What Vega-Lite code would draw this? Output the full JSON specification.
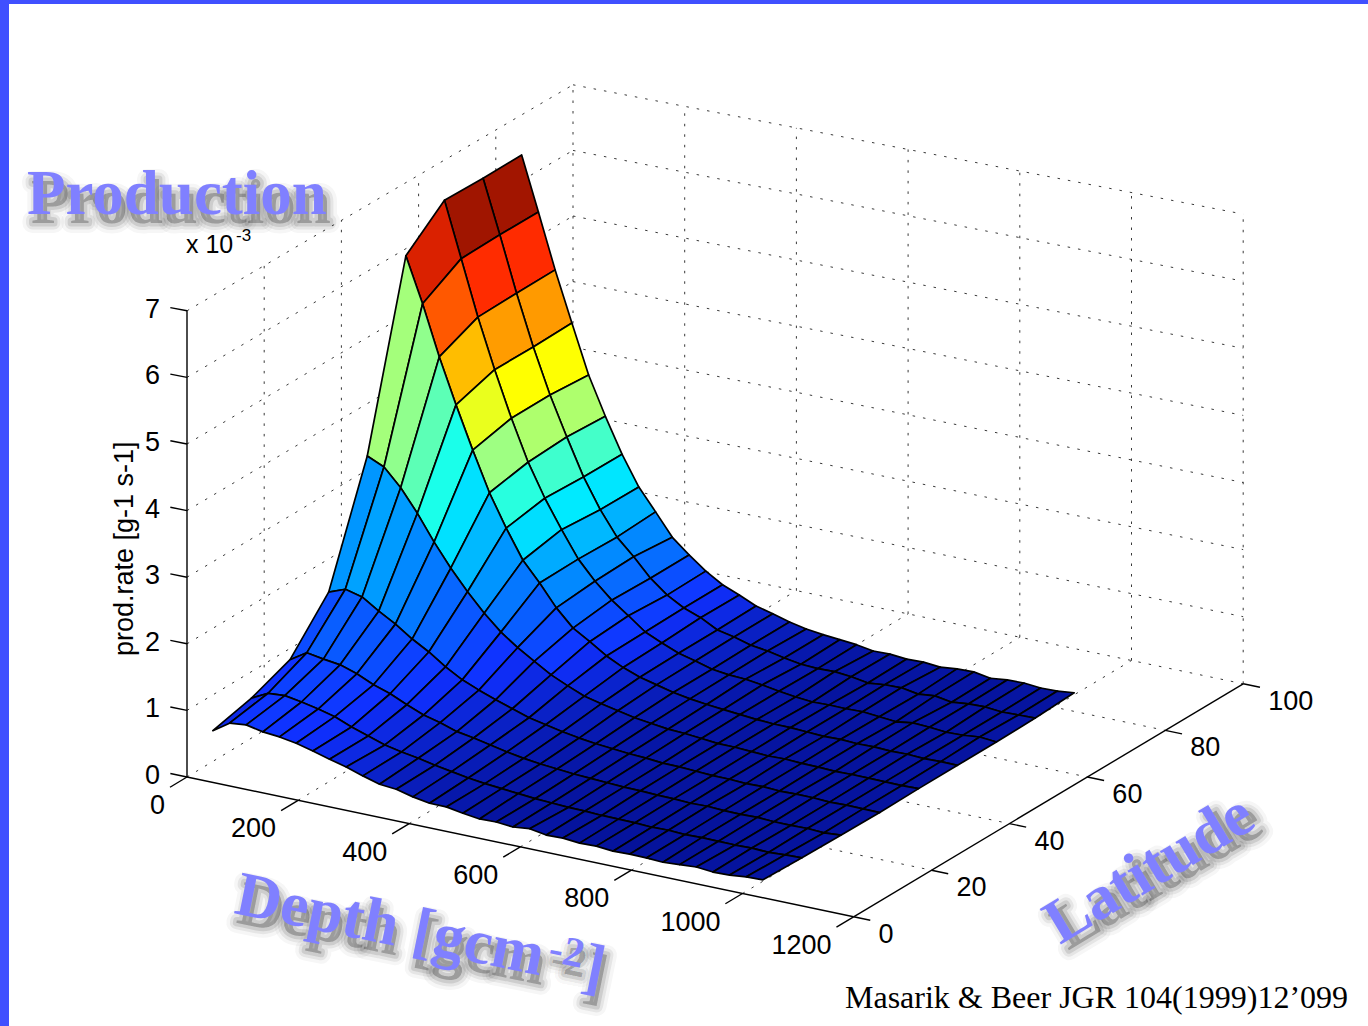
{"$schema":"https://vega.github.io/schema/vega-lite/v6.json","width":1368,"height":1026,"padding":0,"autosize":{"type":"fit","contains":"padding"},"background":"white","config":{"view":{"stroke":null}},
"datasets":{
"frame":[{"a":0,"b":1368,"c":0,"e":4},{"a":0,"b":9,"c":0,"e":1026}],
"grid":[
{"d1":0,"l1":0,"z1":0,"d2":0,"l2":100,"z2":0},{"d1":0,"l1":0,"z1":1,"d2":0,"l2":100,"z2":1},{"d1":0,"l1":0,"z1":2,"d2":0,"l2":100,"z2":2},{"d1":0,"l1":0,"z1":3,"d2":0,"l2":100,"z2":3},{"d1":0,"l1":0,"z1":4,"d2":0,"l2":100,"z2":4},{"d1":0,"l1":0,"z1":5,"d2":0,"l2":100,"z2":5},{"d1":0,"l1":0,"z1":6,"d2":0,"l2":100,"z2":6},{"d1":0,"l1":0,"z1":7,"d2":0,"l2":100,"z2":7},
{"d1":0,"l1":100,"z1":0,"d2":1200,"l2":100,"z2":0},{"d1":0,"l1":100,"z1":1,"d2":1200,"l2":100,"z2":1},{"d1":0,"l1":100,"z1":2,"d2":1200,"l2":100,"z2":2},{"d1":0,"l1":100,"z1":3,"d2":1200,"l2":100,"z2":3},{"d1":0,"l1":100,"z1":4,"d2":1200,"l2":100,"z2":4},{"d1":0,"l1":100,"z1":5,"d2":1200,"l2":100,"z2":5},{"d1":0,"l1":100,"z1":6,"d2":1200,"l2":100,"z2":6},{"d1":0,"l1":100,"z1":7,"d2":1200,"l2":100,"z2":7},
{"d1":0,"l1":20,"z1":0,"d2":0,"l2":20,"z2":7},{"d1":0,"l1":40,"z1":0,"d2":0,"l2":40,"z2":7},{"d1":0,"l1":60,"z1":0,"d2":0,"l2":60,"z2":7},{"d1":0,"l1":80,"z1":0,"d2":0,"l2":80,"z2":7},{"d1":0,"l1":100,"z1":0,"d2":0,"l2":100,"z2":7},
{"d1":200,"l1":100,"z1":0,"d2":200,"l2":100,"z2":7},{"d1":400,"l1":100,"z1":0,"d2":400,"l2":100,"z2":7},{"d1":600,"l1":100,"z1":0,"d2":600,"l2":100,"z2":7},{"d1":800,"l1":100,"z1":0,"d2":800,"l2":100,"z2":7},{"d1":1000,"l1":100,"z1":0,"d2":1000,"l2":100,"z2":7},{"d1":1200,"l1":100,"z1":0,"d2":1200,"l2":100,"z2":7},
{"d1":0,"l1":20,"z1":0,"d2":1200,"l2":20,"z2":0},{"d1":0,"l1":40,"z1":0,"d2":1200,"l2":40,"z2":0},{"d1":0,"l1":60,"z1":0,"d2":1200,"l2":60,"z2":0},{"d1":0,"l1":80,"z1":0,"d2":1200,"l2":80,"z2":0},
{"d1":200,"l1":0,"z1":0,"d2":200,"l2":100,"z2":0},{"d1":400,"l1":0,"z1":0,"d2":400,"l2":100,"z2":0},{"d1":600,"l1":0,"z1":0,"d2":600,"l2":100,"z2":0},{"d1":800,"l1":0,"z1":0,"d2":800,"l2":100,"z2":0},{"d1":1000,"l1":0,"z1":0,"d2":1000,"l2":100,"z2":0}],
"axes":[
{"d1":0,"l1":0,"z1":0,"d2":0,"l2":0,"z2":7},{"d1":0,"l1":0,"z1":0,"d2":1200,"l2":0,"z2":0},{"d1":1200,"l1":0,"z1":0,"d2":1200,"l2":100,"z2":0},
{"d1":0,"l1":0,"z1":0,"d2":-30,"l2":0,"z2":0},{"d1":0,"l1":0,"z1":1,"d2":-30,"l2":0,"z2":1},{"d1":0,"l1":0,"z1":2,"d2":-30,"l2":0,"z2":2},{"d1":0,"l1":0,"z1":3,"d2":-30,"l2":0,"z2":3},{"d1":0,"l1":0,"z1":4,"d2":-30,"l2":0,"z2":4},{"d1":0,"l1":0,"z1":5,"d2":-30,"l2":0,"z2":5},{"d1":0,"l1":0,"z1":6,"d2":-30,"l2":0,"z2":6},{"d1":0,"l1":0,"z1":7,"d2":-30,"l2":0,"z2":7},
{"d1":0,"l1":0,"z1":0,"d2":0,"l2":-4.4,"z2":0},{"d1":200,"l1":0,"z1":0,"d2":200,"l2":-4.4,"z2":0},{"d1":400,"l1":0,"z1":0,"d2":400,"l2":-4.4,"z2":0},{"d1":600,"l1":0,"z1":0,"d2":600,"l2":-4.4,"z2":0},{"d1":800,"l1":0,"z1":0,"d2":800,"l2":-4.4,"z2":0},{"d1":1000,"l1":0,"z1":0,"d2":1000,"l2":-4.4,"z2":0},{"d1":1200,"l1":0,"z1":0,"d2":1200,"l2":-4.4,"z2":0},
{"d1":1200,"l1":0,"z1":0,"d2":1230,"l2":0,"z2":0},{"d1":1200,"l1":20,"z1":0,"d2":1230,"l2":20,"z2":0},{"d1":1200,"l1":40,"z1":0,"d2":1230,"l2":40,"z2":0},{"d1":1200,"l1":60,"z1":0,"d2":1230,"l2":60,"z2":0},{"d1":1200,"l1":80,"z1":0,"d2":1230,"l2":80,"z2":0},{"d1":1200,"l1":100,"z1":0,"d2":1230,"l2":100,"z2":0}],
"titles":[
{"text":"Production","px":27,"py":214,"angle":0,"size":63},
{"text":"Depth [gcm","px":233,"py":913,"angle":11.5,"size":63},
{"text":"-2","px":547,"py":961,"angle":11.5,"size":42},
{"text":"]","px":580,"py":985,"angle":11.5,"size":63},
{"text":"Latitude","px":1060,"py":945,"angle":-31,"size":63}],
"notes":[
{"text":"x 10","px":186,"py":253,"angle":0,"size":25},
{"text":"-3","px":236,"py":241,"angle":0,"size":17},
{"text":"prod.rate [g-1 s-1]","px":133,"py":656,"angle":-90,"size":27}],
"surface":[
{"depth":0,"lat":86.7,"prod":6.38},{"depth":0,"lat":76.7,"prod":6.38},{"depth":0,"lat":66.7,"prod":6.4},{"depth":0,"lat":56.7,"prod":5.91},{"depth":0,"lat":46.7,"prod":3.23},{"depth":0,"lat":36.7,"prod":1.52},{"depth":0,"lat":26.7,"prod":0.85},{"depth":0,"lat":16.7,"prod":0.62},{"depth":0,"lat":6.7,"prod":0.48},
{"depth":30,"lat":86.7,"prod":5.57},{"depth":30,"lat":76.7,"prod":5.58},{"depth":30,"lat":66.7,"prod":5.57},{"depth":30,"lat":56.7,"prod":5.24},{"depth":30,"lat":46.7,"prod":3.12},{"depth":30,"lat":36.7,"prod":1.62},{"depth":30,"lat":26.7,"prod":1.01},{"depth":30,"lat":16.7,"prod":0.75},{"depth":30,"lat":6.7,"prod":0.65},
{"depth":60,"lat":86.7,"prod":4.75},{"depth":60,"lat":76.7,"prod":4.75},{"depth":60,"lat":66.7,"prod":4.74},{"depth":60,"lat":56.7,"prod":4.49},{"depth":60,"lat":46.7,"prod":2.86},{"depth":60,"lat":36.7,"prod":1.56},{"depth":60,"lat":26.7,"prod":0.97},{"depth":60,"lat":16.7,"prod":0.77},{"depth":60,"lat":6.7,"prod":0.68},
{"depth":90,"lat":86.7,"prod":4.0},{"depth":90,"lat":76.7,"prod":3.99},{"depth":90,"lat":66.7,"prod":4.0},{"depth":90,"lat":56.7,"prod":3.82},{"depth":90,"lat":46.7,"prod":2.53},{"depth":90,"lat":36.7,"prod":1.4},{"depth":90,"lat":26.7,"prod":0.94},{"depth":90,"lat":16.7,"prod":0.73},{"depth":90,"lat":6.7,"prod":0.63},
{"depth":120,"lat":86.7,"prod":3.27},{"depth":120,"lat":76.7,"prod":3.32},{"depth":120,"lat":66.7,"prod":3.32},{"depth":120,"lat":56.7,"prod":3.19},{"depth":120,"lat":46.7,"prod":2.15},{"depth":120,"lat":36.7,"prod":1.26},{"depth":120,"lat":26.7,"prod":0.86},{"depth":120,"lat":16.7,"prod":0.68},{"depth":120,"lat":6.7,"prod":0.61},
{"depth":150,"lat":86.7,"prod":2.7},{"depth":150,"lat":76.7,"prod":2.74},{"depth":150,"lat":66.7,"prod":2.71},{"depth":150,"lat":56.7,"prod":2.6},{"depth":150,"lat":46.7,"prod":1.81},{"depth":150,"lat":36.7,"prod":1.09},{"depth":150,"lat":26.7,"prod":0.75},{"depth":150,"lat":16.7,"prod":0.62},{"depth":150,"lat":6.7,"prod":0.57},
{"depth":180,"lat":86.7,"prod":2.18},{"depth":180,"lat":76.7,"prod":2.19},{"depth":180,"lat":66.7,"prod":2.22},{"depth":180,"lat":56.7,"prod":2.12},{"depth":180,"lat":46.7,"prod":1.51},{"depth":180,"lat":36.7,"prod":0.95},{"depth":180,"lat":26.7,"prod":0.67},{"depth":180,"lat":16.7,"prod":0.52},{"depth":180,"lat":6.7,"prod":0.51},
{"depth":210,"lat":86.7,"prod":1.74},{"depth":210,"lat":76.7,"prod":1.75},{"depth":210,"lat":66.7,"prod":1.8},{"depth":210,"lat":56.7,"prod":1.69},{"depth":210,"lat":46.7,"prod":1.24},{"depth":210,"lat":36.7,"prod":0.78},{"depth":210,"lat":26.7,"prod":0.56},{"depth":210,"lat":16.7,"prod":0.44},{"depth":210,"lat":6.7,"prod":0.44},
{"depth":240,"lat":86.7,"prod":1.42},{"depth":240,"lat":76.7,"prod":1.39},{"depth":240,"lat":66.7,"prod":1.41},{"depth":240,"lat":56.7,"prod":1.4},{"depth":240,"lat":46.7,"prod":1.01},{"depth":240,"lat":36.7,"prod":0.64},{"depth":240,"lat":26.7,"prod":0.46},{"depth":240,"lat":16.7,"prod":0.36},{"depth":240,"lat":6.7,"prod":0.38},
{"depth":270,"lat":86.7,"prod":1.09},{"depth":270,"lat":76.7,"prod":1.15},{"depth":270,"lat":66.7,"prod":1.13},{"depth":270,"lat":56.7,"prod":1.08},{"depth":270,"lat":46.7,"prod":0.83},{"depth":270,"lat":36.7,"prod":0.54},{"depth":270,"lat":26.7,"prod":0.4},{"depth":270,"lat":16.7,"prod":0.31},{"depth":270,"lat":6.7,"prod":0.3},
{"depth":300,"lat":86.7,"prod":0.88},{"depth":300,"lat":76.7,"prod":0.88},{"depth":300,"lat":66.7,"prod":0.9},{"depth":300,"lat":56.7,"prod":0.83},{"depth":300,"lat":46.7,"prod":0.68},{"depth":300,"lat":36.7,"prod":0.45},{"depth":300,"lat":26.7,"prod":0.32},{"depth":300,"lat":16.7,"prod":0.27},{"depth":300,"lat":6.7,"prod":0.23},
{"depth":330,"lat":86.7,"prod":0.69},{"depth":330,"lat":76.7,"prod":0.68},{"depth":330,"lat":66.7,"prod":0.72},{"depth":330,"lat":56.7,"prod":0.68},{"depth":330,"lat":46.7,"prod":0.53},{"depth":330,"lat":36.7,"prod":0.37},{"depth":330,"lat":26.7,"prod":0.28},{"depth":330,"lat":16.7,"prod":0.22},{"depth":330,"lat":6.7,"prod":0.21},
{"depth":360,"lat":86.7,"prod":0.54},{"depth":360,"lat":76.7,"prod":0.54},{"depth":360,"lat":66.7,"prod":0.53},{"depth":360,"lat":56.7,"prod":0.52},{"depth":360,"lat":46.7,"prod":0.42},{"depth":360,"lat":36.7,"prod":0.29},{"depth":360,"lat":26.7,"prod":0.23},{"depth":360,"lat":16.7,"prod":0.18},{"depth":360,"lat":6.7,"prod":0.15},
{"depth":390,"lat":86.7,"prod":0.44},{"depth":390,"lat":76.7,"prod":0.45},{"depth":390,"lat":66.7,"prod":0.42},{"depth":390,"lat":56.7,"prod":0.4},{"depth":390,"lat":46.7,"prod":0.32},{"depth":390,"lat":36.7,"prod":0.24},{"depth":390,"lat":26.7,"prod":0.18},{"depth":390,"lat":16.7,"prod":0.14},{"depth":390,"lat":6.7,"prod":0.11},
{"depth":420,"lat":86.7,"prod":0.33},{"depth":420,"lat":76.7,"prod":0.32},{"depth":420,"lat":66.7,"prod":0.32},{"depth":420,"lat":56.7,"prod":0.31},{"depth":420,"lat":46.7,"prod":0.26},{"depth":420,"lat":36.7,"prod":0.19},{"depth":420,"lat":26.7,"prod":0.14},{"depth":420,"lat":16.7,"prod":0.11},{"depth":420,"lat":6.7,"prod":0.11},
{"depth":450,"lat":86.7,"prod":0.27},{"depth":450,"lat":76.7,"prod":0.27},{"depth":450,"lat":66.7,"prod":0.26},{"depth":450,"lat":56.7,"prod":0.25},{"depth":450,"lat":46.7,"prod":0.21},{"depth":450,"lat":36.7,"prod":0.15},{"depth":450,"lat":26.7,"prod":0.11},{"depth":450,"lat":16.7,"prod":0.09},{"depth":450,"lat":6.7,"prod":0.07},
{"depth":480,"lat":86.7,"prod":0.2},{"depth":480,"lat":76.7,"prod":0.2},{"depth":480,"lat":66.7,"prod":0.19},{"depth":480,"lat":56.7,"prod":0.19},{"depth":480,"lat":46.7,"prod":0.16},{"depth":480,"lat":36.7,"prod":0.12},{"depth":480,"lat":26.7,"prod":0.09},{"depth":480,"lat":16.7,"prod":0.07},{"depth":480,"lat":6.7,"prod":0.04},
{"depth":510,"lat":86.7,"prod":0.15},{"depth":510,"lat":76.7,"prod":0.17},{"depth":510,"lat":66.7,"prod":0.16},{"depth":510,"lat":56.7,"prod":0.15},{"depth":510,"lat":46.7,"prod":0.13},{"depth":510,"lat":36.7,"prod":0.1},{"depth":510,"lat":26.7,"prod":0.07},{"depth":510,"lat":16.7,"prod":0.05},{"depth":510,"lat":6.7,"prod":0.05},
{"depth":540,"lat":86.7,"prod":0.12},{"depth":540,"lat":76.7,"prod":0.12},{"depth":540,"lat":66.7,"prod":0.15},{"depth":540,"lat":56.7,"prod":0.12},{"depth":540,"lat":46.7,"prod":0.1},{"depth":540,"lat":36.7,"prod":0.08},{"depth":540,"lat":26.7,"prod":0.06},{"depth":540,"lat":16.7,"prod":0.04},{"depth":540,"lat":6.7,"prod":0.03},
{"depth":570,"lat":86.7,"prod":0.1},{"depth":570,"lat":76.7,"prod":0.08},{"depth":570,"lat":66.7,"prod":0.12},{"depth":570,"lat":56.7,"prod":0.1},{"depth":570,"lat":46.7,"prod":0.09},{"depth":570,"lat":36.7,"prod":0.07},{"depth":570,"lat":26.7,"prod":0.05},{"depth":570,"lat":16.7,"prod":0.03},{"depth":570,"lat":6.7,"prod":0.06},
{"depth":600,"lat":86.7,"prod":0.08},{"depth":600,"lat":76.7,"prod":0.07},{"depth":600,"lat":66.7,"prod":0.08},{"depth":600,"lat":56.7,"prod":0.08},{"depth":600,"lat":46.7,"prod":0.07},{"depth":600,"lat":36.7,"prod":0.05},{"depth":600,"lat":26.7,"prod":0.04},{"depth":600,"lat":16.7,"prod":0.03},{"depth":600,"lat":6.7,"prod":0.02},
{"depth":630,"lat":86.7,"prod":0.04},{"depth":630,"lat":76.7,"prod":0.08},{"depth":630,"lat":66.7,"prod":0.05},{"depth":630,"lat":56.7,"prod":0.06},{"depth":630,"lat":46.7,"prod":0.05},{"depth":630,"lat":36.7,"prod":0.05},{"depth":630,"lat":26.7,"prod":0.04},{"depth":630,"lat":16.7,"prod":0.02},{"depth":630,"lat":6.7,"prod":0.03},
{"depth":660,"lat":86.7,"prod":0.05},{"depth":660,"lat":76.7,"prod":0.06},{"depth":660,"lat":66.7,"prod":0.03},{"depth":660,"lat":56.7,"prod":0.05},{"depth":660,"lat":46.7,"prod":0.05},{"depth":660,"lat":36.7,"prod":0.04},{"depth":660,"lat":26.7,"prod":0.03},{"depth":660,"lat":16.7,"prod":0.02},{"depth":660,"lat":6.7,"prod":0.01},
{"depth":690,"lat":86.7,"prod":0.03},{"depth":690,"lat":76.7,"prod":0.02},{"depth":690,"lat":66.7,"prod":0.04},{"depth":690,"lat":56.7,"prod":0.05},{"depth":690,"lat":46.7,"prod":0.04},{"depth":690,"lat":36.7,"prod":0.03},{"depth":690,"lat":26.7,"prod":0.03},{"depth":690,"lat":16.7,"prod":0.02},{"depth":690,"lat":6.7,"prod":0.02},
{"depth":720,"lat":86.7,"prod":0.04},{"depth":720,"lat":76.7,"prod":0.05},{"depth":720,"lat":66.7,"prod":0.04},{"depth":720,"lat":56.7,"prod":0.04},{"depth":720,"lat":46.7,"prod":0.03},{"depth":720,"lat":36.7,"prod":0.03},{"depth":720,"lat":26.7,"prod":0.02},{"depth":720,"lat":16.7,"prod":0.01},{"depth":720,"lat":6.7,"prod":0.0},
{"depth":750,"lat":86.7,"prod":0.02},{"depth":750,"lat":76.7,"prod":0.06},{"depth":750,"lat":66.7,"prod":0.05},{"depth":750,"lat":56.7,"prod":0.03},{"depth":750,"lat":46.7,"prod":0.04},{"depth":750,"lat":36.7,"prod":0.02},{"depth":750,"lat":26.7,"prod":0.03},{"depth":750,"lat":16.7,"prod":0.02},{"depth":750,"lat":6.7,"prod":0.01},
{"depth":780,"lat":86.7,"prod":0.05},{"depth":780,"lat":76.7,"prod":0.02},{"depth":780,"lat":66.7,"prod":0.03},{"depth":780,"lat":56.7,"prod":0.04},{"depth":780,"lat":46.7,"prod":0.03},{"depth":780,"lat":36.7,"prod":0.03},{"depth":780,"lat":26.7,"prod":0.02},{"depth":780,"lat":16.7,"prod":0.01},{"depth":780,"lat":6.7,"prod":0.01},
{"depth":810,"lat":86.7,"prod":0.06},{"depth":810,"lat":76.7,"prod":0.05},{"depth":810,"lat":66.7,"prod":0.01},{"depth":810,"lat":56.7,"prod":0.03},{"depth":810,"lat":46.7,"prod":0.03},{"depth":810,"lat":36.7,"prod":0.02},{"depth":810,"lat":26.7,"prod":0.02},{"depth":810,"lat":16.7,"prod":0.02},{"depth":810,"lat":6.7,"prod":0.0},
{"depth":840,"lat":86.7,"prod":0.02},{"depth":840,"lat":76.7,"prod":0.01},{"depth":840,"lat":66.7,"prod":0.05},{"depth":840,"lat":56.7,"prod":0.04},{"depth":840,"lat":46.7,"prod":0.02},{"depth":840,"lat":36.7,"prod":0.03},{"depth":840,"lat":26.7,"prod":0.03},{"depth":840,"lat":16.7,"prod":0.02},{"depth":840,"lat":6.7,"prod":0.02},
{"depth":870,"lat":86.7,"prod":0.05},{"depth":870,"lat":76.7,"prod":0.04},{"depth":870,"lat":66.7,"prod":0.04},{"depth":870,"lat":56.7,"prod":0.03},{"depth":870,"lat":46.7,"prod":0.03},{"depth":870,"lat":36.7,"prod":0.03},{"depth":870,"lat":26.7,"prod":0.02},{"depth":870,"lat":16.7,"prod":0.02},{"depth":870,"lat":6.7,"prod":0.04},
{"depth":900,"lat":86.7,"prod":0.06},{"depth":900,"lat":76.7,"prod":0.05},{"depth":900,"lat":66.7,"prod":0.02},{"depth":900,"lat":56.7,"prod":0.04},{"depth":900,"lat":46.7,"prod":0.03},{"depth":900,"lat":36.7,"prod":0.02},{"depth":900,"lat":26.7,"prod":0.02},{"depth":900,"lat":16.7,"prod":0.03},{"depth":900,"lat":6.7,"prod":0.02},
{"depth":930,"lat":86.7,"prod":0.04},{"depth":930,"lat":76.7,"prod":0.03},{"depth":930,"lat":66.7,"prod":0.03},{"depth":930,"lat":56.7,"prod":0.03},{"depth":930,"lat":46.7,"prod":0.03},{"depth":930,"lat":36.7,"prod":0.03},{"depth":930,"lat":26.7,"prod":0.03},{"depth":930,"lat":16.7,"prod":0.02},{"depth":930,"lat":6.7,"prod":0.03},
{"depth":960,"lat":86.7,"prod":0.05},{"depth":960,"lat":76.7,"prod":0.04},{"depth":960,"lat":66.7,"prod":0.06},{"depth":960,"lat":56.7,"prod":0.04},{"depth":960,"lat":46.7,"prod":0.03},{"depth":960,"lat":36.7,"prod":0.03},{"depth":960,"lat":26.7,"prod":0.02},{"depth":960,"lat":16.7,"prod":0.04},{"depth":960,"lat":6.7,"prod":0.06},
{"depth":990,"lat":86.7,"prod":0.08},{"depth":990,"lat":76.7,"prod":0.05},{"depth":990,"lat":66.7,"prod":0.04},{"depth":990,"lat":56.7,"prod":0.04},{"depth":990,"lat":46.7,"prod":0.04},{"depth":990,"lat":36.7,"prod":0.03},{"depth":990,"lat":26.7,"prod":0.04},{"depth":990,"lat":16.7,"prod":0.05},{"depth":990,"lat":6.7,"prod":0.07}
]},
"layer":[
{"data":{"name":"frame"},"mark":{"type":"rect","fill":"#4050ff"},"encoding":{"x":{"field":"a","type":"quantitative","scale":{"domain":[0,1368],"nice":false,"zero":false},"axis":null},"x2":{"field":"b"},"y":{"field":"c","type":"quantitative","scale":{"domain":[1026,0],"nice":false,"zero":false},"axis":null},"y2":{"field":"e"}}},
{"data":{"name":"grid"},
"transform":[
{"calculate":"187+0.5555*datum.d1+3.86*datum.l1+0.00003*datum.d1*datum.l1","as":"x1"},
{"calculate":"187+0.5555*datum.d2+3.86*datum.l2+0.00003*datum.d2*datum.l2","as":"x2"},
{"calculate":"777+0.1165*datum.d1-2.33*datum.l1-(66.6-0.01*datum.l1+0.00125*datum.d1)*datum.z1","as":"y1"},
{"calculate":"777+0.1165*datum.d2-2.33*datum.l2-(66.6-0.01*datum.l2+0.00125*datum.d2)*datum.z2","as":"y2"}],
"mark":{"type":"rule","stroke":"#222","strokeWidth":0.9,"strokeDash":[2.5,8]},
"encoding":{"x":{"field":"x1","type":"quantitative","scale":{"domain":[0,1368],"nice":false,"zero":false},"axis":null},"x2":{"field":"x2"},"y":{"field":"y1","type":"quantitative","scale":{"domain":[1026,0],"nice":false,"zero":false},"axis":null},"y2":{"field":"y2"}}},
{"data":{"name":"surface"},
"transform":[
{"calculate":"[0,1,2,3]","as":"c"},
{"flatten":["c"]},
{"calculate":"datum.depth/30-((datum.c==1||datum.c==2)?1:0)","as":"ci"},
{"calculate":"round((datum.lat-6.7)/10)-((datum.c==2||datum.c==3)?1:0)","as":"cj"},
{"filter":"datum.ci>=0&&datum.ci<33&&datum.cj>=0&&datum.cj<8"},
{"calculate":"datum.ci*100+datum.cj","as":"cell"},
{"calculate":"datum.c==0?datum.prod:null","as":"own"},
{"joinaggregate":[{"op":"max","field":"own","as":"level"}],"groupby":["cell"]},
{"calculate":"187+0.5555*datum.depth+3.86*datum.lat+0.00003*datum.depth*datum.lat","as":"sx"},
{"calculate":"778+0.1233*datum.depth-2.33*datum.lat-66*datum.prod","as":"sy"}],
"mark":{"type":"line","interpolate":"linear-closed","stroke":"black","strokeWidth":1.7,"strokeJoin":"round"},
"encoding":{"x":{"field":"sx","type":"quantitative","scale":{"domain":[0,1368],"nice":false,"zero":false},"axis":null},"y":{"field":"sy","type":"quantitative","scale":{"domain":[1026,0],"nice":false,"zero":false},"axis":null},"detail":{"field":"cell","type":"nominal"},"order":{"field":"c","type":"quantitative"},
"fill":{"field":"level","type":"quantitative","legend":null,"scale":{"type":"linear","interpolate":"rgb","domain":[0,0.3,0.6,1.5,2.4,3.2,4.0,5.6,6.4],"range":["#05129a","#0a22c8","#1030ff","#0094ff","#00ffff","#a0ff80","#ffff00","#ff2800","#a01500"]}}}},
{"data":{"name":"axes"},
"transform":[
{"calculate":"187+0.5555*datum.d1+3.86*datum.l1+0.00003*datum.d1*datum.l1","as":"x1"},
{"calculate":"187+0.5555*datum.d2+3.86*datum.l2+0.00003*datum.d2*datum.l2","as":"x2"},
{"calculate":"777+0.1165*datum.d1-2.33*datum.l1-(66.6-0.01*datum.l1+0.00125*datum.d1)*datum.z1","as":"y1"},
{"calculate":"777+0.1165*datum.d2-2.33*datum.l2-(66.6-0.01*datum.l2+0.00125*datum.d2)*datum.z2","as":"y2"}],
"mark":{"type":"rule","stroke":"black","strokeWidth":1.4},
"encoding":{"x":{"field":"x1","type":"quantitative","scale":{"domain":[0,1368],"nice":false,"zero":false},"axis":null},"x2":{"field":"x2"},"y":{"field":"y1","type":"quantitative","scale":{"domain":[1026,0],"nice":false,"zero":false},"axis":null},"y2":{"field":"y2"}}},
{"data":{"values":[{"v":0},{"v":1},{"v":2},{"v":3},{"v":4},{"v":5},{"v":6},{"v":7}]},
"transform":[{"calculate":"187","as":"tx"},{"calculate":"777-66.6*datum.v","as":"ty"}],
"mark":{"type":"text","font":"Liberation Sans","fontSize":27,"align":"right","baseline":"middle","dx":-27,"dy":-1,"fill":"black"},
"encoding":{"text":{"field":"v","type":"nominal"},"x":{"field":"tx","type":"quantitative","scale":{"domain":[0,1368],"nice":false,"zero":false},"axis":null},"y":{"field":"ty","type":"quantitative","scale":{"domain":[1026,0],"nice":false,"zero":false},"axis":null}}},
{"data":{"values":[{"v":0},{"v":200},{"v":400},{"v":600},{"v":800},{"v":1000},{"v":1200}]},
"transform":[{"calculate":"187+0.5555*datum.v","as":"tx"},{"calculate":"777+0.1165*datum.v","as":"ty"}],
"mark":{"type":"text","font":"Liberation Sans","fontSize":27,"align":"right","baseline":"middle","dx":-22,"dy":29,"fill":"black"},
"encoding":{"text":{"field":"v","type":"nominal"},"x":{"field":"tx","type":"quantitative","scale":{"domain":[0,1368],"nice":false,"zero":false},"axis":null},"y":{"field":"ty","type":"quantitative","scale":{"domain":[1026,0],"nice":false,"zero":false},"axis":null}}},
{"data":{"values":[{"v":0},{"v":20},{"v":40},{"v":60},{"v":80},{"v":100}]},
"transform":[{"calculate":"853.6+3.896*datum.v","as":"tx"},{"calculate":"916.8-2.33*datum.v","as":"ty"}],
"mark":{"type":"text","font":"Liberation Sans","fontSize":27,"align":"left","baseline":"middle","dx":25,"dy":18,"fill":"black"},
"encoding":{"text":{"field":"v","type":"nominal"},"x":{"field":"tx","type":"quantitative","scale":{"domain":[0,1368],"nice":false,"zero":false},"axis":null},"y":{"field":"ty","type":"quantitative","scale":{"domain":[1026,0],"nice":false,"zero":false},"axis":null}}},
{"data":{"name":"notes"},"mark":{"type":"text","font":"Liberation Sans","align":"left","baseline":"alphabetic","fill":"black"},
"encoding":{"text":{"field":"text"},"x":{"field":"px","type":"quantitative","scale":{"domain":[0,1368],"nice":false,"zero":false},"axis":null},"y":{"field":"py","type":"quantitative","scale":{"domain":[1026,0],"nice":false,"zero":false},"axis":null},"angle":{"field":"angle","type":"quantitative","scale":null},"size":{"field":"size","type":"quantitative","scale":null,"legend":null}}},
{"data":{"name":"titles"},"mark":{"type":"text","font":"Liberation Serif","fontWeight":"bold","align":"left","baseline":"alphabetic","dx":4,"dy":9,"fill":"#222","fillOpacity":0.1,"stroke":"#222","strokeOpacity":0.04,"strokeWidth":20,"strokeJoin":"round"},
"encoding":{"text":{"field":"text"},"x":{"field":"px","type":"quantitative","scale":{"domain":[0,1368],"nice":false,"zero":false},"axis":null},"y":{"field":"py","type":"quantitative","scale":{"domain":[1026,0],"nice":false,"zero":false},"axis":null},"angle":{"field":"angle","type":"quantitative","scale":null},"size":{"field":"size","type":"quantitative","scale":null,"legend":null}}},
{"data":{"name":"titles"},"mark":{"type":"text","font":"Liberation Serif","fontWeight":"bold","align":"left","baseline":"alphabetic","dx":4,"dy":9,"fill":"#222","fillOpacity":0.1,"stroke":"#222","strokeOpacity":0.08,"strokeWidth":13,"strokeJoin":"round"},
"encoding":{"text":{"field":"text"},"x":{"field":"px","type":"quantitative","scale":{"domain":[0,1368],"nice":false,"zero":false},"axis":null},"y":{"field":"py","type":"quantitative","scale":{"domain":[1026,0],"nice":false,"zero":false},"axis":null},"angle":{"field":"angle","type":"quantitative","scale":null},"size":{"field":"size","type":"quantitative","scale":null,"legend":null}}},
{"data":{"name":"titles"},"mark":{"type":"text","font":"Liberation Serif","fontWeight":"bold","align":"left","baseline":"alphabetic","dx":4,"dy":9,"fill":"#222","fillOpacity":0.1,"stroke":"#222","strokeOpacity":0.12,"strokeWidth":7,"strokeJoin":"round"},
"encoding":{"text":{"field":"text"},"x":{"field":"px","type":"quantitative","scale":{"domain":[0,1368],"nice":false,"zero":false},"axis":null},"y":{"field":"py","type":"quantitative","scale":{"domain":[1026,0],"nice":false,"zero":false},"axis":null},"angle":{"field":"angle","type":"quantitative","scale":null},"size":{"field":"size","type":"quantitative","scale":null,"legend":null}}},
{"data":{"name":"titles"},"mark":{"type":"text","font":"Liberation Serif","fontWeight":"bold","align":"left","baseline":"alphabetic","fill":"#8080ff"},
"encoding":{"text":{"field":"text"},"x":{"field":"px","type":"quantitative","scale":{"domain":[0,1368],"nice":false,"zero":false},"axis":null},"y":{"field":"py","type":"quantitative","scale":{"domain":[1026,0],"nice":false,"zero":false},"axis":null},"angle":{"field":"angle","type":"quantitative","scale":null},"size":{"field":"size","type":"quantitative","scale":null,"legend":null}}},
{"data":{"values":[{"text":"Masarik & Beer JGR 104(1999)12’099","px":845,"py":1008}]},"mark":{"type":"text","font":"Liberation Serif","fontSize":32,"align":"left","baseline":"alphabetic","fill":"black"},
"encoding":{"text":{"field":"text"},"x":{"field":"px","type":"quantitative","scale":{"domain":[0,1368],"nice":false,"zero":false},"axis":null},"y":{"field":"py","type":"quantitative","scale":{"domain":[1026,0],"nice":false,"zero":false},"axis":null}}}
]}
